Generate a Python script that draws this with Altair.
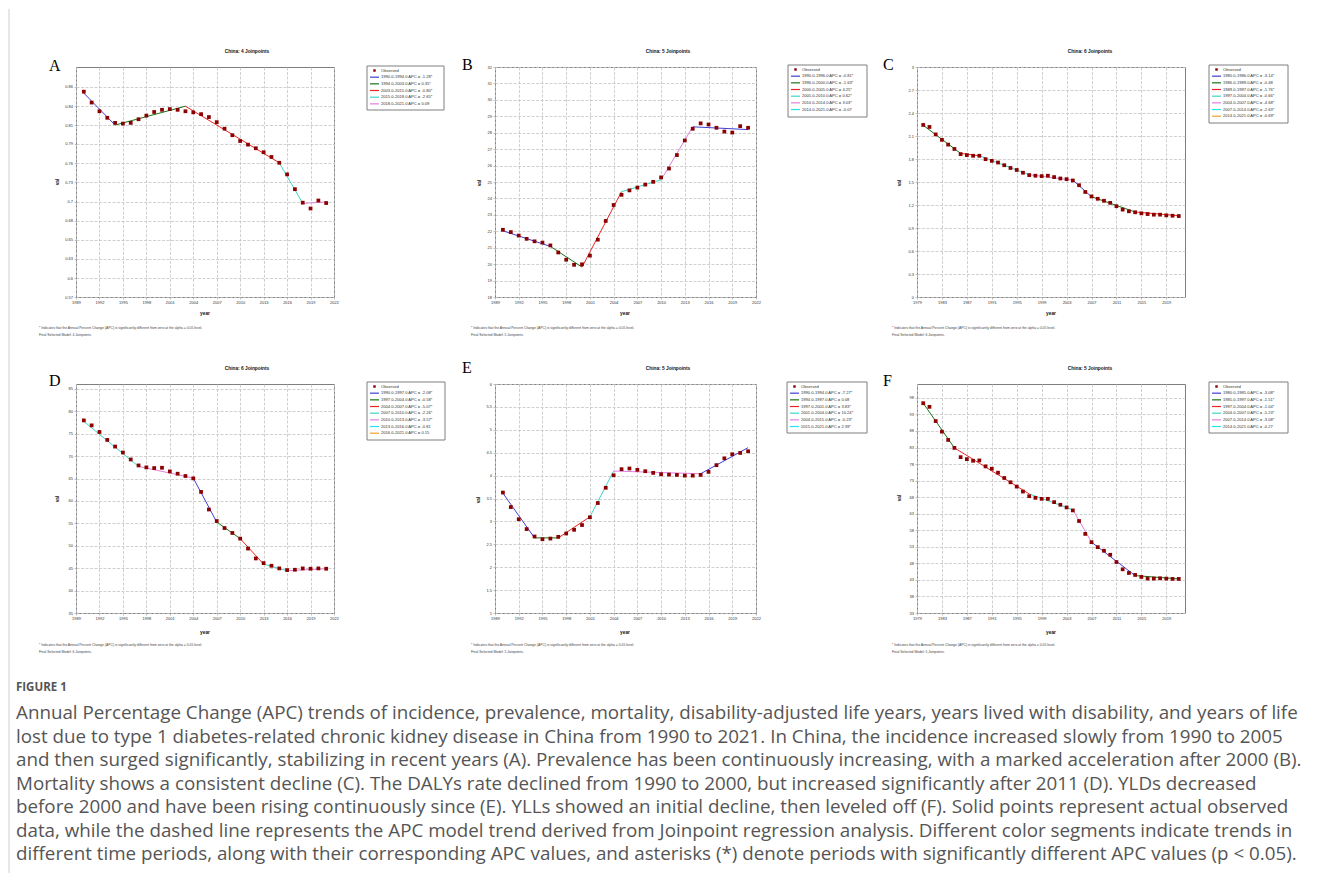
import altair as alt
import pandas as pd

# ---------------- data ----------------
SEG_COLORS = ["#3f3fd6", "#177517", "#ec2424", "#3fd6c8", "#e07fe0", "#26e2ee", "#f0a22c"]

# A - incidence
A_obs_years = list(range(1990, 2022))
A_obs_vals = [0.857, 0.842, 0.830, 0.821, 0.814, 0.813, 0.814, 0.819, 0.824, 0.829, 0.832, 0.833,
              0.832, 0.830, 0.8285, 0.826, 0.822, 0.815, 0.806, 0.797, 0.789, 0.784, 0.779, 0.7735,
              0.767, 0.759, 0.743, 0.7226, 0.704, 0.696, 0.707, 0.7035]
A_jp_years = [1990, 1994, 2003, 2015, 2018, 2021]
A_jp_vals = [0.855, 0.811, 0.837, 0.759, 0.703, 0.705]
A_apc = ["1990.0-1994.0 APC = -1.28*", "1994.0-2003.0 APC = 0.35*", "2003.0-2015.0 APC = -0.80*",
         "2015.0-2018.0 APC = -2.65*", "2018.0-2021.0 APC = 0.09"]
A_xticks = [1989, 1992, 1995, 1998, 2001, 2004, 2007, 2010, 2013, 2016, 2019, 2022]
A_yticks = [0.574, 0.6, 0.627, 0.653, 0.679, 0.705, 0.732, 0.758, 0.785, 0.811, 0.837, 0.864]
A_ydom = [0.574, 0.891]

# B - prevalence
B_obs_years = list(range(1990, 2022))
B_obs_vals = [22.09, 21.95, 21.74, 21.54, 21.39, 21.31, 21.14, 20.71, 20.27, 19.96, 19.99, 20.52,
              21.49, 22.63, 23.60, 24.22, 24.49, 24.66, 24.84, 25.01, 25.28, 25.82, 26.64, 27.53,
              28.24, 28.57, 28.50, 28.30, 28.07, 28.01, 28.40, 28.30]
B_jp_years = [1990, 1996, 2000, 2005, 2010, 2014, 2021]
B_jp_vals = [22.03, 21.08, 19.82, 24.41, 25.13, 28.36, 28.19]
B_apc = ["1990.0-1996.0 APC = -0.81*", "1996.0-2000.0 APC = -1.63*", "2000.0-2005.0 APC = 4.25*",
         "2005.0-2010.0 APC = 0.62*", "2010.0-2014.0 APC = 3.03*", "2014.0-2021.0 APC = -0.07"]
B_xticks = [1989, 1992, 1995, 1998, 2001, 2004, 2007, 2010, 2013, 2016, 2019, 2022]
B_yticks = [18, 19, 20, 21, 22, 23, 24, 25, 26, 27, 28, 29, 30, 31, 32]
B_ydom = [18, 32]

# C - mortality
C_obs_years = list(range(1980, 2022))
C_obs_vals = [2.244, 2.218, 2.121, 2.050, 1.988, 1.931, 1.864, 1.851, 1.842, 1.842, 1.798, 1.776,
              1.754, 1.719, 1.683, 1.657, 1.621, 1.590, 1.582, 1.577, 1.582, 1.564, 1.546, 1.537,
              1.520, 1.458, 1.370, 1.312, 1.281, 1.255, 1.228, 1.184, 1.140, 1.118, 1.105, 1.091,
              1.082, 1.074, 1.074, 1.065, 1.060, 1.056]
C_jp_years = [1980, 1986, 1989, 1997, 2004, 2007, 2014, 2021]
C_jp_vals = [2.240, 1.873, 1.842, 1.595, 1.524, 1.308, 1.109, 1.060]
C_apc = ["1980.0-1986.0 APC = -3.14*", "1986.0-1989.0 APC = -0.48", "1989.0-1997.0 APC = -1.76*",
         "1997.0-2004.0 APC = -0.66*", "2004.0-2007.0 APC = -4.68*", "2007.0-2014.0 APC = -2.63*",
         "2014.0-2021.0 APC = -0.69*"]
C_xticks = [1979, 1983, 1987, 1991, 1995, 1999, 2003, 2007, 2011, 2015, 2019]
C_yticks = [0, 0.3, 0.6, 0.9, 1.2, 1.5, 1.8, 2.1, 2.4, 2.7, 3]
C_ydom = [0, 3]

# D - DALYs
D_obs_years = list(range(1990, 2022))
D_obs_vals = [77.98, 76.87, 75.39, 73.62, 72.14, 70.81, 69.26, 67.93, 67.49, 67.34, 67.41, 66.60,
              66.08, 65.57, 65.05, 62.02, 58.10, 55.52, 53.96, 52.86, 51.60, 49.38, 47.17, 46.13,
              45.54, 44.95, 44.58, 44.65, 44.95, 44.88, 44.95, 44.88]
D_jp_years = [1990, 1997, 2004, 2007, 2010, 2013, 2016, 2021]
D_jp_vals = [77.76, 67.71, 65.12, 55.30, 51.60, 45.90, 44.43, 44.88]
D_apc = ["1990.0-1997.0 APC = -2.08*", "1997.0-2004.0 APC = -0.58*", "2004.0-2007.0 APC = -5.07*",
         "2007.0-2010.0 APC = -2.26*", "2010.0-2013.0 APC = -3.57*", "2013.0-2016.0 APC = -0.81",
         "2016.0-2021.0 APC = 0.15"]
D_xticks = [1989, 1992, 1995, 1998, 2001, 2004, 2007, 2010, 2013, 2016, 2019, 2022]
D_yticks = [35, 40, 45, 50, 55, 60, 65, 70, 75, 80, 85]
D_ydom = [35, 86.1]

# E - YLDs
E_obs_years = list(range(1990, 2022))
E_obs_vals = [3.630, 3.313, 3.047, 2.832, 2.670, 2.610, 2.625, 2.662, 2.736, 2.817, 2.921, 3.091,
              3.401, 3.734, 4.007, 4.140, 4.155, 4.126, 4.096, 4.059, 4.030, 4.022, 4.015, 4.000,
              4.000, 4.015, 4.081, 4.229, 4.377, 4.466, 4.495, 4.532]
E_jp_years = [1990, 1994, 1997, 2001, 2004, 2015, 2021]
E_jp_vals = [3.616, 2.640, 2.640, 3.100, 4.100, 4.040, 4.610]
E_apc = ["1990.0-1994.0 APC = -7.27*", "1994.0-1997.0 APC = 0.08", "1997.0-2001.0 APC = 3.83*",
         "2001.0-2004.0 APC = 10.24*", "2004.0-2015.0 APC = -0.23*", "2015.0-2021.0 APC = 2.39*"]
E_xticks = [1989, 1992, 1995, 1998, 2001, 2004, 2007, 2010, 2013, 2016, 2019, 2022]
E_yticks = [1, 1.5, 2, 2.5, 3, 3.5, 4, 4.5, 5, 5.5, 6]
E_ydom = [1, 6]

# F - YLLs
F_obs_years = list(range(1980, 2022))
F_obs_vals = [96.4, 95.3, 91.0, 87.8, 85.3, 82.9, 80.1, 79.5, 79.0, 79.1, 77.3, 76.6, 75.4, 73.8,
              72.5, 71.2, 69.7, 68.3, 67.8, 67.5, 67.5, 66.5, 65.7, 64.9, 64.0, 60.8, 56.9, 54.4,
              52.9, 51.8, 50.6, 48.4, 46.2, 45.1, 44.5, 43.9, 43.4, 43.4, 43.5, 43.4, 43.3, 43.3]
F_jp_years = [1980, 1985, 1997, 2004, 2007, 2014, 2021]
F_jp_vals = [96.4, 82.9, 69.0, 64.2, 54.4, 44.3, 43.3]
F_apc = ["1980.0-1985.0 APC = -3.08*", "1985.0-1997.0 APC = -1.51*", "1997.0-2004.0 APC = -1.04*",
         "2004.0-2007.0 APC = -5.23*", "2007.0-2014.0 APC = -3.08*", "2014.0-2021.0 APC = -0.27"]
F_xticks = [1979, 1983, 1987, 1991, 1995, 1999, 2003, 2007, 2011, 2015, 2019]
F_yticks = [33, 38, 43, 48, 53, 58, 63, 68, 73, 78, 83, 88, 93, 98]
F_ydom = [33, 102.2]

FOOT1 = "* Indicates that the Annual Percent Change (APC) is significantly different from zero at the alpha = 0.05 level."
CAPTION_HEAD = "FIGURE 1"
CAPTION_LINES = [
    "Annual Percentage Change (APC) trends of incidence, prevalence, mortality, disability-adjusted life years, years lived with disability, and years of life",
    "lost due to type 1 diabetes-related chronic kidney disease in China from 1990 to 2021. In China, the incidence increased slowly from 1990 to 2005",
    "and then surged significantly, stabilizing in recent years (A). Prevalence has been continuously increasing, with a marked acceleration after 2000 (B).",
    "Mortality shows a consistent decline (C). The DALYs rate declined from 1990 to 2000, but increased significantly after 2011 (D). YLDs decreased",
    "before 2000 and have been rising continuously since (E). YLLs showed an initial decline, then leveled off (F). Solid points represent actual observed",
    "data, while the dashed line represents the APC model trend derived from Joinpoint regression analysis. Different color segments indicate trends in",
    "different time periods, along with their corresponding APC values, and asterisks (*) denote periods with significantly different APC values (p < 0.05).",
]

# ---------------- layout (absolute page pixels) ----------------
PANELS = [
    dict(letter="A", nj=4, years=A_obs_years, vals=A_obs_vals, jy=A_jp_years, jv=A_jp_vals, apc=A_apc,
         xdom=[1989, 2022], xticks=A_xticks, ydom=A_ydom, yticks=A_yticks,
         box=(75, 66, 258, 230), let=(48, 70), tit=(246, 51), val=(57, 181), year=(204, 313),
         fn=(38, 327, 334), leg=(366, 65, 443, 109)),
    dict(letter="B", nj=5, years=B_obs_years, vals=B_obs_vals, jy=B_jp_years, jv=B_jp_vals, apc=B_apc,
         xdom=[1989, 2022], xticks=B_xticks, ydom=B_ydom, yticks=B_yticks,
         box=(494, 66, 261, 230), let=(461, 69), tit=(667, 51), val=(479, 182), year=(624, 313),
         fn=(470, 327, 334), leg=(787, 64, 866, 116)),
    dict(letter="C", nj=6, years=C_obs_years, vals=C_obs_vals, jy=C_jp_years, jv=C_jp_vals, apc=C_apc,
         xdom=[1979, 2022], xticks=C_xticks, ydom=C_ydom, yticks=C_yticks,
         box=(916, 66, 268, 230), let=(882, 69), tit=(1089, 51), val=(899, 182), year=(1050, 313),
         fn=(891, 327, 334), leg=(1208, 64, 1287, 122)),
    dict(letter="D", nj=6, years=D_obs_years, vals=D_obs_vals, jy=D_jp_years, jv=D_jp_vals, apc=D_apc,
         xdom=[1989, 2022], xticks=D_xticks, ydom=D_ydom, yticks=D_yticks,
         box=(75, 383, 258, 229), let=(48, 385), tit=(246, 368), val=(57, 498), year=(204, 632),
         fn=(38, 644, 651), leg=(366, 381, 444, 439)),
    dict(letter="E", nj=5, years=E_obs_years, vals=E_obs_vals, jy=E_jp_years, jv=E_jp_vals, apc=E_apc,
         xdom=[1989, 2022], xticks=E_xticks, ydom=E_ydom, yticks=E_yticks,
         box=(494, 383, 261, 229), let=(461, 372), tit=(667, 368), val=(478, 499), year=(624, 632),
         fn=(470, 644, 651), leg=(786, 381, 866, 432)),
    dict(letter="F", nj=5, years=F_obs_years, vals=F_obs_vals, jy=F_jp_years, jv=F_jp_vals, apc=F_apc,
         xdom=[1979, 2022], xticks=F_xticks, ydom=F_ydom, yticks=F_yticks,
         box=(916, 383, 268, 229), let=(882, 385), tit=(1089, 368), val=(899, 497), year=(1050, 632),
         fn=(891, 644, 651), leg=(1208, 381, 1287, 432)),
]

ONE = pd.DataFrame({"k": [0]})
SANS = "Liberation Sans"
CAP_FONT = "Open Sans"


def txt(s, x, y, size, **kw):
    props = dict(text=s, fontSize=size, font=SANS, color="#333333", align="left", baseline="middle")
    props.update(kw)
    return alt.Chart(ONE).mark_text(**props).encode(x=alt.value(x), y=alt.value(y))


def build(p, extra=None):
    L, T, W, H = p["box"]
    rx = lambda v: v - L
    ry = lambda v: v - T
    obs = pd.DataFrame({"year": p["years"], "val": p["vals"]})
    rows = []
    for i in range(len(p["jy"]) - 1):
        rows.append({"seg": p["apc"][i], "year": p["jy"][i], "val": p["jv"][i]})
        rows.append({"seg": p["apc"][i], "year": p["jy"][i + 1], "val": p["jv"][i + 1]})
    fit = pd.DataFrame(rows)
    nseg = len(p["apc"])
    xenc = alt.X("year:Q", scale=alt.Scale(domain=p["xdom"], nice=False, zero=False),
                 axis=alt.Axis(values=p["xticks"], format="~g", title=None, labelFlush=False,
                               labelOverlap=False))
    yenc = alt.Y("val:Q", scale=alt.Scale(domain=p["ydom"], nice=False, zero=False),
                 axis=alt.Axis(values=p["yticks"], format="~g", title=None, labelOverlap=False))
    line = alt.Chart(fit).mark_line(strokeWidth=1).encode(
        x=xenc, y=yenc,
        color=alt.Color("seg:N", scale=alt.Scale(domain=p["apc"], range=SEG_COLORS[:nseg]), legend=None),
        detail="seg:N")
    pts = alt.Chart(obs).mark_square(size=14, color="#8b0000", opacity=1).encode(x=xenc, y=yenc)

    layers = [line, pts]
    layers.append(txt(p["letter"], rx(p["let"][0]), ry(p["let"][1]), 16, font="Liberation Serif",
                      color="#000000", baseline="alphabetic"))
    layers.append(txt(f"China: {p['nj']} Joinpoints", rx(p["tit"][0]), ry(p["tit"][1]), 4.8,
                      fontWeight="bold", align="center", color="#111111"))
    layers.append(txt("val", rx(p["val"][0]), ry(p["val"][1]), 4.8, fontWeight="bold", align="center",
                      angle=270, color="#111111"))
    layers.append(txt("year", rx(p["year"][0]), ry(p["year"][1]), 4.8, fontWeight="bold", align="center",
                      color="#111111"))
    layers.append(txt(FOOT1, rx(p["fn"][0]), ry(p["fn"][1]), 3.4, color="#444444"))
    layers.append(txt(f"Final Selected Model: {p['nj']} Joinpoints.", rx(p["fn"][0]), ry(p["fn"][2]), 3.4,
                      color="#444444"))
    lx0, ly0, lx1, ly1 = p["leg"]
    layers.append(alt.Chart(ONE).mark_rect(fill="white", stroke="#7f7f7f", strokeWidth=1).encode(
        x=alt.value(rx(lx0)), x2=alt.value(rx(lx1)), y=alt.value(ry(ly0)), y2=alt.value(ry(ly1))))
    entries = ["Observed"] + p["apc"]
    for i, lab in enumerate(entries):
        yy = ry(ly0 + 4.5 + i * 6.67)
        if i == 0:
            layers.append(alt.Chart(ONE).mark_square(size=6, color="#8b0000", opacity=1).encode(
                x=alt.value(rx(lx0 + 7.5)), y=alt.value(yy)))
        else:
            layers.append(alt.Chart(ONE).mark_rule(color=SEG_COLORS[i - 1], strokeWidth=1.2).encode(
                x=alt.value(rx(lx0 + 3)), x2=alt.value(rx(lx0 + 12)), y=alt.value(yy)))
        layers.append(txt(lab, rx(lx0 + 14), yy, 4.1, color="#333333"))
    if extra:
        layers.extend(extra(rx, ry))
    return alt.layer(*layers).properties(width=W, height=H)


def page_extras(rx, ry):
    return [alt.Chart(ONE).mark_rule(color="#cfcfcf", strokeWidth=1).encode(
        x=alt.value(rx(8)), y=alt.value(ry(8)), y2=alt.value(ry(872)))]


def caption_extras(rx, ry):
    out = [txt(CAPTION_HEAD, rx(15), ry(687), 11.5, font=CAP_FONT, fontWeight="bold", color="#555555")]
    for i, line in enumerate(CAPTION_LINES):
        out.append(txt(line, rx(15), ry(712 + i * 23.5), 18.8, font=CAP_FONT, color="#555555"))
    return out


charts = []
for idx, p in enumerate(PANELS):
    extra = None
    if idx == 0:
        extra = page_extras
    elif idx == 3:
        extra = caption_extras
    charts.append(build(p, extra))

chart = alt.concat(*charts, columns=3, spacing={"row": 87, "column": 161}, bounds="flush").properties(
    padding=0
).configure_view(stroke="#7f7f7f", strokeWidth=1).configure_axis(
    labelFontSize=4, labelFont=SANS, labelColor="#333333", labelPadding=1.5,
    tickSize=2, tickColor="#999999", tickWidth=0.6, domain=False,
    grid=True, gridColor="#c4c4c4", gridDash=[3, 1.5], gridWidth=0.8
)

chart.save("out.html", embed_options={"renderer": "svg", "actions": False})
